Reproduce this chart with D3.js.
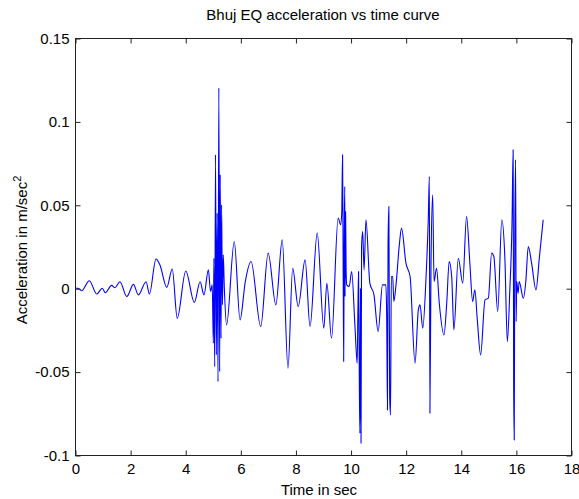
<!DOCTYPE html>
<html>
<head>
<meta charset="utf-8">
<script src="https://cdn.jsdelivr.net/npm/d3@7"></script>
<style>
  html, body { margin: 0; padding: 0; background: #fff; }
  svg { display: block; }
  text { font-family: "Liberation Sans", Arial, Helvetica, sans-serif; fill: #000; }
</style>
</head>
<body>
<svg id="chart" width="579" height="499"></svg>
<script>
// ---- data ----
const timeSec = [
  0.00, 0.10, 0.24, 0.52, 0.79, 0.99, 1.10, 1.33, 1.45, 1.63, 1.88, 2.12, 2.30, 2.58, 2.70,
  2.94, 3.08, 3.33, 3.53, 3.71, 4.02, 4.33, 4.54, 4.68, 4.84, 4.92, 4.98,
  5.02, 5.04, 5.07, 5.10, 5.13, 5.16, 5.19, 5.22, 5.25, 5.27, 5.30, 5.32, 5.35, 5.38, 5.42,
  5.50, 5.78, 5.99, 6.18, 6.39, 6.74, 7.01, 7.29, 7.52, 7.73, 7.90, 8.10, 8.35, 8.53, 8.79,
  9.03, 9.14, 9.31, 9.55, 9.64, 9.68, 9.71, 9.73, 9.75, 9.77, 9.79, 9.80, 9.82, 9.84, 9.86,
  9.95, 10.04, 10.16, 10.24, 10.27, 10.29, 10.32, 10.34, 10.36, 10.38, 10.40, 10.44, 10.49,
  10.56, 10.70, 10.85, 11.00, 11.16, 11.28, 11.31, 11.34, 11.36, 11.39, 11.42, 11.45, 11.48,
  11.53, 11.57, 11.65, 11.77, 11.85, 12.01, 12.16, 12.34, 12.46, 12.52, 12.62, 12.74, 12.82,
  12.86, 12.88, 12.92, 12.98, 13.03, 13.12, 13.22, 13.39, 13.49, 13.58, 13.67, 13.75, 13.91,
  14.07, 14.21, 14.33, 14.43, 14.51, 14.60, 14.72, 14.88, 15.00, 15.12, 15.20, 15.34, 15.49,
  15.60, 15.69, 15.78, 15.86, 15.90, 15.92, 15.94, 15.96, 15.99, 16.01, 16.03, 16.08, 16.12,
  16.27, 16.36, 16.45, 16.57, 16.73, 16.85, 16.99
];
const accel = [
  0.000, 0.000, -0.0015, 0.0045, -0.0035, 0.000, -0.0027, 0.0017, 0.0003, 0.0039, -0.005, 0.0023, -0.004, 0.0039, -0.0035,
  0.0175, 0.014, 0.0005, 0.0115, -0.018, 0.0103, -0.0085, 0.0039, -0.004, 0.011, -0.002, 0.002,
  -0.033, 0.018, -0.047, 0.080, -0.040, 0.045, -0.056, 0.120, -0.050, 0.068, -0.030, 0.050, -0.010, 0.020, 0.000,
  -0.022, 0.028, -0.019, 0.004, 0.016, -0.023, 0.021, -0.010, 0.029, -0.048, 0.012, -0.011, 0.017, -0.023, 0.033,
  -0.024, 0.003, -0.030, 0.042, 0.038, 0.045, 0.080, 0.020, -0.044, 0.030, 0.061, -0.005, 0.046, 0.010, 0.002,
  0.001, 0.010, -0.023, -0.045, -0.010, 0.010, -0.060, -0.087, 0.000, -0.093, 0.025, 0.034, 0.011,
  0.041, 0.003, -0.004, -0.026, 0.002, 0.002, -0.015, -0.073, 0.025, 0.049, -0.065, -0.076, 0.007,
  0.007, -0.008, 0.002, 0.026, 0.036, 0.015, 0.007, -0.045, -0.013, -0.010, -0.024, 0.007, 0.041,
  0.067, -0.075, 0.015, 0.056, 0.004, 0.012, -0.009, -0.028, -0.009, 0.016, 0.007, -0.025, 0.018,
  0.003, 0.043, 0.015, -0.008, -0.001, -0.019, -0.040, -0.007, -0.006, 0.021, 0.019, -0.014, 0.041,
  0.018, -0.032, -0.001, 0.040, 0.083, -0.060, -0.091, 0.030, 0.077, -0.020, 0.004, -0.003, 0.004,
  -0.006, 0.004, 0.025, 0.015, -0.001, 0.018, 0.041
];
const xTicks = [0, 2, 4, 6, 8, 10, 12, 14, 16, 18];
const yTicks = [-0.1, -0.05, 0, 0.05, 0.1, 0.15];
const yTickLabels = ["-0.1", "-0.05", "0", "0.05", "0.1", "0.15"];
const titleText = "Bhuj EQ acceleration vs time curve";
const xLabelText = "Time in sec";
const yLabelMain = "Acceleration in m/sec";
const yLabelSup = "2";

// ---- layout ----
const plotL = 75, plotR = 571, plotT = 38, plotB = 455;
const svg = d3.select("#chart");
const x = d3.scaleLinear().domain([0, 18]).range([plotL, plotR]);
const y = d3.scaleLinear().domain([-0.1, 0.15]).range([plotB, plotT]);
const tickLen = 5;
const fs = 15;

const data = timeSec.map((t, i) => [t, accel[i]]);

// data line
const line = d3.line().x(d => x(d[0])).y(d => y(d[1])).curve(d3.curveMonotoneX);
svg.append("path")
  .datum(data)
  .attr("d", line)
  .attr("fill", "none")
  .attr("stroke", "#0000ff")
  .attr("stroke-width", 1.1)
  .attr("stroke-linejoin", "round");

// box
svg.append("rect")
  .attr("x", plotL + 0.5).attr("y", plotT + 0.5)
  .attr("width", plotR - plotL).attr("height", plotB - plotT)
  .attr("fill", "none").attr("stroke", "#222").attr("stroke-width", 1);

// axes with inward ticks, mirrored on top/right
const xAxisB = d3.axisBottom(x).tickValues(xTicks).tickSizeInner(-tickLen).tickSizeOuter(0).tickPadding(8).tickFormat(d3.format("d"));
const gxb = svg.append("g").attr("transform", `translate(0.5,${plotB + 0.5})`).call(xAxisB);
const xAxisT = d3.axisTop(x).tickValues(xTicks).tickSizeInner(-tickLen).tickSizeOuter(0).tickFormat("");
const gxt = svg.append("g").attr("transform", `translate(0.5,${plotT + 0.5})`).call(xAxisT);
const yAxisL = d3.axisLeft(y).tickValues(yTicks).tickSizeInner(-tickLen).tickSizeOuter(0).tickPadding(6)
  .tickFormat((d, i) => yTickLabels[i]);
const gyl = svg.append("g").attr("transform", `translate(${plotL + 0.5},0.5)`).call(yAxisL);
const yAxisR = d3.axisRight(y).tickValues(yTicks).tickSizeInner(-tickLen).tickSizeOuter(0).tickFormat("");
const gyr = svg.append("g").attr("transform", `translate(${plotR + 0.5},0.5)`).call(yAxisR);

[gxb, gxt, gyl, gyr].forEach(g => {
  g.select(".domain").remove();
  g.selectAll(".tick line").attr("stroke", "#222");
  g.selectAll(".tick text").attr("font-size", fs).attr("font-family", "Liberation Sans, Arial, sans-serif").attr("fill", "#000");
});

// title
svg.append("text")
  .attr("x", (plotL + plotR) / 2).attr("y", 20)
  .attr("text-anchor", "middle").attr("font-size", fs)
  .text(titleText);

// x label
svg.append("text")
  .attr("x", (plotL + plotR) / 2 - 4).attr("y", 495)
  .attr("text-anchor", "middle").attr("font-size", fs)
  .text(xLabelText);

// y label
const yl = svg.append("text")
  .attr("transform", `translate(27,250) rotate(-90)`)
  .attr("text-anchor", "middle").attr("font-size", fs);
yl.append("tspan").text(yLabelMain);
yl.append("tspan").attr("font-size", 11).attr("dy", -6).text(yLabelSup);
</script>
</body>
</html>
